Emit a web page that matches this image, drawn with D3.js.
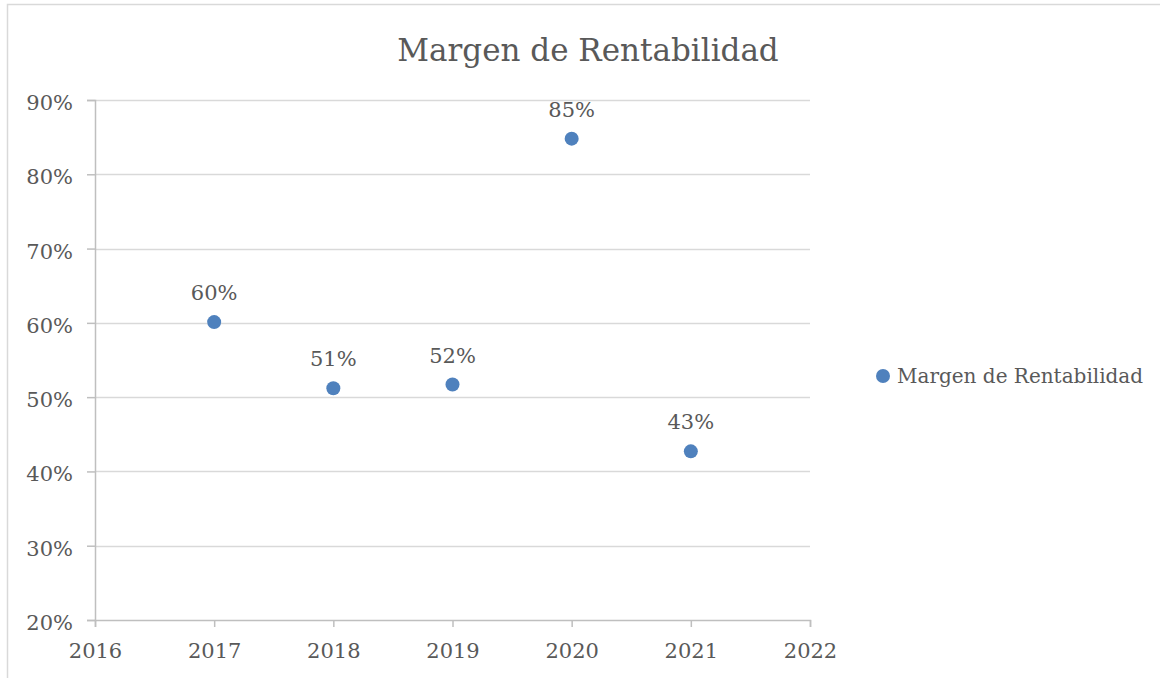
<!DOCTYPE html>
<html>
<head>
<meta charset="utf-8">
<script src="https://cdn.jsdelivr.net/npm/d3@7"></script>
<style>
  body { margin: 0; background: #fff; }
  text { font-family: "DejaVu Serif", serif; fill: #595959; }
</style>
</head>
<body>
<script>
// data
var years = [2017, 2018, 2019, 2020, 2021];
var margen = [0.601, 0.512, 0.517, 0.848, 0.427];
var xTicks = [2016, 2017, 2018, 2019, 2020, 2021, 2022];
var yTicks = [0.2, 0.3, 0.4, 0.5, 0.6, 0.7, 0.8, 0.9];
var seriesName = "Margen de Rentabilidad";

var width = 1160, height = 678;
var margin = {top: 100, right: 350, bottom: 58, left: 95};
var innerWidth = width - margin.left - margin.right;   // 715
var innerHeight = height - margin.top - margin.bottom; // 520

var svg = d3.select("body").append("svg")
  .attr("width", width)
  .attr("height", height);

// chart area border
svg.append("path")
  .attr("d", "M7.5," + height + "V4.5H" + width)
  .attr("fill", "none")
  .attr("stroke", "#d9d9d9")
  .attr("stroke-width", 1.5);

var g = svg.append("g")
  .attr("transform", "translate(" + margin.left + "," + margin.top + ")");

var x = d3.scaleLinear().domain([2016, 2022]).range([0, innerWidth]);
var y = d3.scaleLinear().domain([0.2, 0.9]).range([innerHeight, 0]);

// gridlines
g.append("g")
  .selectAll("line")
  .data(yTicks.slice(1))
  .enter().append("line")
    .attr("x1", 0)
    .attr("x2", innerWidth)
    .attr("y1", function(d) { return Math.round(y(d)) + 0.5; })
    .attr("y2", function(d) { return Math.round(y(d)) + 0.5; })
    .attr("stroke", "#d9d9d9")
    .attr("stroke-width", 1.5);

// y axis
var yAxis = d3.axisLeft(y)
  .tickValues(yTicks)
  .tickFormat(d3.format(".0%"))
  .tickSize(8)
  .tickPadding(14);
var yg = g.append("g").call(yAxis);
yg.select(".domain").attr("stroke", "#bfbfbf").attr("stroke-width", 1.5);
yg.selectAll(".tick line").attr("stroke", "#bfbfbf").attr("stroke-width", 1.5);
yg.selectAll(".tick text")
  .attr("dy", "0.45em")
  .style("font-size", "21px")
  .attr("fill", "#595959")
  .style("font-family", "DejaVu Serif, serif");

// x axis
var xAxis = d3.axisBottom(x)
  .tickValues(xTicks)
  .tickFormat(d3.format("d"))
  .tickSize(7)
  .tickSizeOuter(7)
  .tickPadding(16);
var xg = g.append("g")
  .attr("transform", "translate(0," + innerHeight + ")")
  .call(xAxis);
xg.select(".domain").attr("stroke", "#bfbfbf").attr("stroke-width", 1.5);
xg.selectAll(".tick line").attr("stroke", "#bfbfbf").attr("stroke-width", 1.5);
xg.selectAll(".tick text")
  .style("font-size", "21px")
  .attr("fill", "#595959")
  .style("font-family", "DejaVu Serif, serif");

var data = years.map(function(yr, i) { return {year: yr, value: margen[i]}; });

// points
g.selectAll(".dot")
  .data(data)
  .enter().append("circle")
    .attr("class", "dot")
    .attr("cx", function(d) { return x(d.year); })
    .attr("cy", function(d) { return y(d.value); })
    .attr("r", 7)
    .attr("fill", "#4f81bd");

// data labels
g.selectAll(".lbl")
  .data(data)
  .enter().append("text")
    .attr("class", "lbl")
    .attr("x", function(d) { return x(d.year); })
    .attr("y", function(d) { return y(d.value) - 22; })
    .attr("text-anchor", "middle")
    .style("font-size", "21px")
    .text(function(d) { return d3.format(".0%")(d.value); });

// title
svg.append("text")
  .attr("x", 588)
  .attr("y", 61)
  .attr("text-anchor", "middle")
  .style("font-size", "31px")
  .text(seriesName);

// legend
svg.append("circle")
  .attr("cx", 883)
  .attr("cy", 376)
  .attr("r", 7)
  .attr("fill", "#4f81bd");
svg.append("text")
  .attr("x", 897)
  .attr("y", 383)
  .style("font-size", "20px")
  .text(seriesName);
</script>
</body>
</html>
